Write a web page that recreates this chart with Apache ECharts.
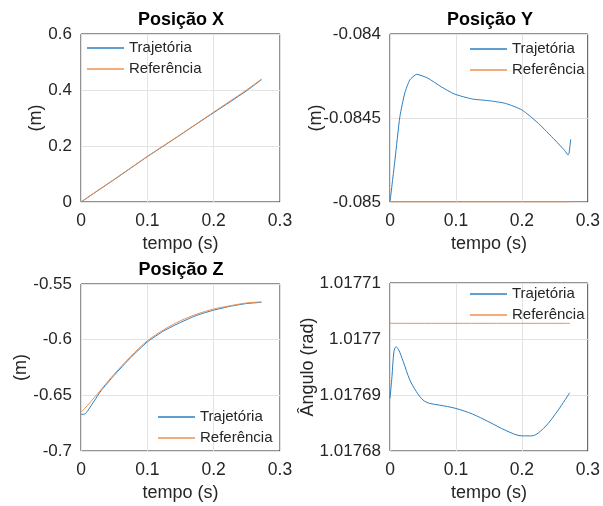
<!DOCTYPE html>
<html><head><meta charset="utf-8">
<script src="https://cdn.jsdelivr.net/npm/echarts@6/dist/echarts.min.js"></script>
<style>html,body{margin:0;padding:0;background:#fff}#c{width:603px;height:506px}</style>
</head><body><div id="c"></div>
<script>
// ---- data ----
var tX = [0, 0.025, 0.05, 0.075, 0.1, 0.125, 0.15, 0.175, 0.2, 0.225, 0.25, 0.272];
var xTraj = [0, 0.040, 0.080, 0.121, 0.162, 0.201, 0.240, 0.280, 0.319, 0.358, 0.398, 0.437];
var xRef  = [0, 0.041, 0.081, 0.122, 0.163, 0.202, 0.241, 0.281, 0.321, 0.361, 0.401, 0.439];

var tY = [0, 0.0075, 0.015, 0.0225, 0.03, 0.0405, 0.057, 0.078, 0.0975, 0.125, 0.15, 0.175, 0.2, 0.225, 0.25, 0.265, 0.27, 0.2715, 0.274];
var yTraj = [-0.085, -0.08475, -0.084492, -0.084351, -0.084274, -0.08424, -0.084262, -0.084315, -0.084357, -0.084387, -0.084397, -0.084413, -0.084452, -0.084532, -0.084631, -0.084694, -0.08472, -0.08471, -0.084627];
var tYRef = [0, 0.272];
var yRef = [-0.085, -0.085];

var tZ = [0, 0.005, 0.01, 0.02, 0.03, 0.05, 0.075, 0.1, 0.125, 0.15, 0.175, 0.2, 0.225, 0.25, 0.272];
var zTraj = [-0.667, -0.667, -0.664, -0.655, -0.646, -0.632, -0.616, -0.602, -0.592, -0.5845, -0.578, -0.5735, -0.570, -0.5675, -0.5665];
var zRef  = [-0.665, -0.662, -0.659, -0.652, -0.645, -0.631, -0.615, -0.601, -0.591, -0.583, -0.577, -0.5725, -0.5695, -0.567, -0.566];

var tA = [0, 0.003, 0.006, 0.009, 0.013, 0.02, 0.03, 0.04, 0.05, 0.06, 0.075, 0.1, 0.125, 0.15, 0.175, 0.2, 0.215, 0.235, 0.255, 0.2725];
var aTraj = [1.0176894, 1.0176933, 1.0176978, 1.0176986, 1.0176981, 1.017696, 1.0176927, 1.0176906, 1.0176891, 1.0176885, 1.0176882, 1.0176876, 1.0176866, 1.0176852, 1.0176837, 1.0176827, 1.0176827, 1.0176843, 1.0176873, 1.0176904];
var tARef = [0, 0.2725];
var aRef = [1.0177028, 1.0177028];

var titles = ['Posição X', 'Posição Y', 'Posição Z'];
var seriesNames = ['Trajetória', 'Referência'];
var xName = 'tempo (s)';
var yNames = ['(m)', '(m)', '(m)', 'Ângulo (rad)'];

// ---- chart ----
function pairs(t, v) { return t.map(function (x, i) { return [x, v[i]]; }); }
var FONT = 'Liberation Sans, Arial, Helvetica, sans-serif';
var TXT = '#262626';
var BLUE = '#2a7fc2', ORANGE = '#ef9050';

var grids = [
  {left: 81, top: 34, width: 199, height: 168},
  {left: 390, top: 34, width: 200, height: 168},
  {left: 81, top: 284, width: 199, height: 167},
  {left: 390, top: 283, width: 200, height: 168}
];
grids.forEach(function (g) { g.show = true; g.borderColor = '#262626'; g.borderWidth = 1; g.backgroundColor = '#fff'; g.containLabel = false; });

var yRanges = [[0, 0.6, 0.2], [-0.085, -0.084, 0.0005], [-0.7, -0.55, 0.05], [1.01768, 1.01771, 0.00001]];
var yGaps = [36, 65, 51, 73];

var xAxes = grids.map(function (g, i) {
  return {
    type: 'value', gridIndex: i, min: 0, max: 0.3, interval: 0.1,
    name: xName, nameLocation: 'middle', nameGap: 33, nameMoveOverlap: false,
    nameTextStyle: {fontFamily: FONT, fontSize: 18, color: TXT},
    axisLine: {show: false}, axisTick: {show: false},
    axisLabel: {fontFamily: FONT, fontSize: 17.5, color: TXT, margin: 10},
    splitLine: {show: true, lineStyle: {color: '#e3e3e3', width: 1}}
  };
});
var yAxes = grids.map(function (g, i) {
  return {
    type: 'value', gridIndex: i, min: yRanges[i][0], max: yRanges[i][1], interval: yRanges[i][2],
    name: yNames[i], nameLocation: 'middle', nameGap: yGaps[i], nameRotate: 90, nameMoveOverlap: false,
    nameTextStyle: {fontFamily: FONT, fontSize: 18, color: TXT},
    axisLine: {show: false}, axisTick: {show: false},
    axisLabel: {fontFamily: FONT, fontSize: 17, color: TXT, margin: 9},
    splitLine: {show: true, lineStyle: {color: '#e3e3e3', width: 1}}
  };
});

function mk(name, color, i, data) {
  return {
    name: name, type: 'line', xAxisIndex: i, yAxisIndex: i, data: data,
    showSymbol: false, symbol: 'none', smooth: 0.3, color: color,
    lineStyle: {width: 1, color: color}, animation: false, z: 3
  };
}
var series = [
  mk(seriesNames[0], BLUE, 0, pairs(tX, xTraj)),
  mk(seriesNames[1], ORANGE, 0, pairs(tX, xRef)),
  mk(seriesNames[0], BLUE, 1, pairs(tY, yTraj)),
  mk(seriesNames[1], ORANGE, 1, pairs(tYRef, yRef)),
  mk(seriesNames[0], BLUE, 2, pairs(tZ, zTraj)),
  mk(seriesNames[1], ORANGE, 2, pairs(tZ, zRef)),
  mk(seriesNames[0], BLUE, 3, pairs(tA, aTraj)),
  mk(seriesNames[1], ORANGE, 3, pairs(tARef, aRef))
];
series[2].smooth = 0.2; series[4].smooth = 0.15; series[6].smooth = 0.3;

var legendPos = [[87, 40], [470, 41], [158, 409], [470, 286]];
var legends = legendPos.map(function (p) {
  return {
    data: seriesNames, orient: 'vertical', left: p[0], top: p[1],
    icon: 'rect', itemWidth: 37, itemHeight: 1.5, itemGap: 5,
    textStyle: {fontFamily: FONT, fontSize: 15, color: TXT, lineHeight: 16},
    selectedMode: false, padding: 0
  };
});

var titlePos = [[181, 11], [490, 11], [181, 261]];
var titleOpts = titles.map(function (t, i) {
  return {text: t, left: titlePos[i][0], top: titlePos[i][1], textAlign: 'center', padding: 0,
    textStyle: {fontFamily: FONT, fontSize: 18, fontWeight: 'bold', color: '#000'}};
});

var chart = echarts.init(document.getElementById('c'), null, {renderer: 'canvas'});
chart.setOption({
  animation: false,
  backgroundColor: '#fff',
  title: titleOpts,
  legend: legends,
  grid: grids,
  xAxis: xAxes,
  yAxis: yAxes,
  series: series
});
</script></body></html>
